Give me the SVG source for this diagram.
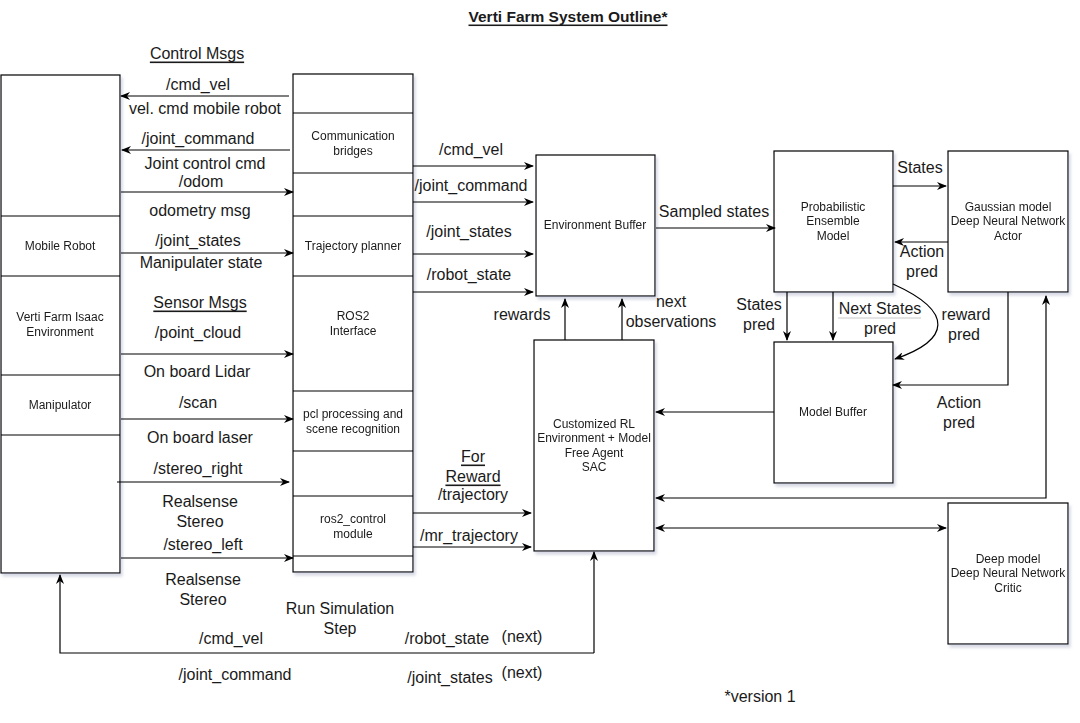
<svg xmlns="http://www.w3.org/2000/svg" width="1080" height="723" viewBox="0 0 1080 723">
<defs>
<style>
.box{fill:#fff;stroke:#000;stroke-width:1.2}
.div{stroke:#000;stroke-width:1.2;fill:none}
.ln{stroke:#000;stroke-width:1.2;fill:none}
.arr{marker-end:url(#ah)}
.bi{marker-end:url(#ah);marker-start:url(#ahs)}
.lb{font-family:"Liberation Sans",Arial,sans-serif;font-size:16px;fill:#1a1a1a;text-anchor:middle;dominant-baseline:central}
.bt{font-family:"Liberation Sans",Arial,sans-serif;font-size:12px;fill:#1a1a1a;text-anchor:middle;dominant-baseline:central}
.u{text-decoration:underline}
</style>
<marker id="ah" viewBox="0 0 10 8" refX="9" refY="4" markerWidth="10" markerHeight="8" markerUnits="userSpaceOnUse" orient="auto">
<path d="M0,0 L10,4 L0,8 L3,4 Z" fill="#000"/>
</marker>
<marker id="ahs" viewBox="0 0 10 8" refX="9" refY="4" markerWidth="10" markerHeight="8" markerUnits="userSpaceOnUse" orient="auto-start-reverse">
<path d="M0,0 L10,4 L0,8 L3,4 Z" fill="#000"/>
</marker>
<filter id="sh" x="-10%" y="-10%" width="130%" height="130%">
<feDropShadow dx="2" dy="3" stdDeviation="1.5" flood-color="#8890b0" flood-opacity="0.35"/>
</filter>
</defs>
<rect width="1080" height="723" fill="#fff"/>

<text class="lb u" x="568" y="16" style="font-weight:bold;font-size:15.5px">Verti Farm System Outline*</text>

<g id="sim-env" filter="url(#sh)">
<rect class="box" x="1" y="75" width="119" height="498"/>
<path class="div" d="M1,216H120M1,276H120M1,375H120M1,435H120"/>
<text class="bt" x="60" y="246">Mobile Robot</text>
<text class="bt" x="60" y="317">Verti Farm Isaac</text>
<text class="bt" x="60" y="332">Environment</text>
<text class="bt" x="60" y="405">Manipulator</text>
</g>

<g id="ros2-interface" filter="url(#sh)">
<rect class="box" x="293" y="74" width="120" height="498"/>
<path class="div" d="M293,113H413M293,173H413M293,216H413M293,276H413M293,391H413M293,451H413M293,496H413M293,556H413"/>
<text class="bt" x="353" y="136">Communication</text>
<text class="bt" x="353" y="151">bridges</text>
<text class="bt" x="353" y="246">Trajectory planner</text>
<text class="bt" x="353" y="316">ROS2</text>
<text class="bt" x="353" y="331">Interface</text>
<text class="bt" x="353" y="414">pcl processing and</text>
<text class="bt" x="353" y="429">scene recognition</text>
<text class="bt" x="353" y="519">ros2_control</text>
<text class="bt" x="353" y="534">module</text>
</g>

<g id="env-buffer" filter="url(#sh)">
<rect class="box" x="536" y="155" width="119" height="141"/>
<text class="bt" x="595" y="225">Environment Buffer</text>
</g>

<g id="rl-agent" filter="url(#sh)">
<rect class="box" x="534" y="340" width="120" height="211"/>
<text class="bt" x="594" y="424">Customized RL</text>
<text class="bt" x="594" y="438">Environment + Model</text>
<text class="bt" x="594" y="453">Free Agent</text>
<text class="bt" x="594" y="467">SAC</text>
</g>

<g id="pe-model" filter="url(#sh)">
<rect class="box" x="774" y="151" width="119" height="141"/>
<text class="bt" x="833" y="207">Probabilistic</text>
<text class="bt" x="833" y="221">Ensemble</text>
<text class="bt" x="833" y="236">Model</text>
</g>

<g id="actor" filter="url(#sh)">
<rect class="box" x="948" y="151" width="120" height="141"/>
<text class="bt" x="1008" y="207">Gaussian model</text>
<text class="bt" x="1008" y="221">Deep Neural Network</text>
<text class="bt" x="1008" y="236">Actor</text>
</g>

<g id="model-buffer" filter="url(#sh)">
<rect class="box" x="774" y="342" width="119" height="141"/>
<text class="bt" x="833" y="412">Model Buffer</text>
</g>

<g id="critic" filter="url(#sh)">
<rect class="box" x="948" y="503" width="120" height="141"/>
<text class="bt" x="1008" y="559">Deep model</text>
<text class="bt" x="1008" y="573">Deep Neural Network</text>
<text class="bt" x="1008" y="588">Critic</text>
</g>

<g id="connectors">
<path class="ln arr" d="M289,96H121"/>
<path class="ln arr" d="M290,150H122"/>
<path class="ln arr" d="M121,192H293"/>
<path class="ln arr" d="M121,253H293"/>
<path class="ln arr" d="M121,354H293"/>
<path class="ln arr" d="M121,419H293"/>
<path class="ln arr" d="M117,482H289"/>
<path class="ln arr" d="M121,558H293"/>
<path class="ln arr" d="M594,653V552"/>
<path class="ln arr" d="M594,653H60V575"/>

<path class="ln arr" d="M413,166H533"/>
<path class="ln arr" d="M413,202H533"/>
<path class="ln arr" d="M413,254H533"/>
<path class="ln arr" d="M413,292H533"/>
<path class="ln arr" d="M413,513H531"/>
<path class="ln arr" d="M413,547H531"/>
<path class="ln arr" d="M565,340V299"/>
<path class="ln arr" d="M622,340V299"/>

<path class="ln arr" d="M656,228H775"/>
<path class="ln arr" d="M893,186H946"/>
<path class="ln arr" d="M948,242H895"/>
<path class="ln arr" d="M787,292V340"/>
<path class="ln arr" d="M833,292V340"/>
<path class="ln arr" d="M893,284C955,312 950,340 895,359"/>
<path class="ln arr" d="M1008,292V385H893"/>
<path class="ln arr" d="M774,412H656"/>
<path class="ln bi" d="M656,498H1046V296"/>
<path class="ln bi" d="M656,528H946"/>
</g>

<g id="labels">
<text class="lb u" x="197" y="53">Control Msgs</text>
<text class="lb" x="198" y="84">/cmd_vel</text>
<text class="lb" x="205" y="108">vel. cmd mobile robot</text>
<text class="lb" x="198" y="138">/joint_command</text>
<text class="lb" x="205" y="163">Joint control cmd</text>
<text class="lb" x="201" y="181">/odom</text>
<text class="lb" x="200" y="210">odometry msg</text>
<text class="lb" x="198" y="240">/joint_states</text>
<text class="lb" x="201" y="262">Manipulater state</text>
<text class="lb u" x="200" y="302">Sensor Msgs</text>
<text class="lb" x="198" y="332">/point_cloud</text>
<text class="lb" x="197" y="371">On board Lidar</text>
<text class="lb" x="198" y="402">/scan</text>
<text class="lb" x="200" y="437">On board laser</text>
<text class="lb" x="198" y="468">/stereo_right</text>
<text class="lb" x="200" y="501">Realsense</text>
<text class="lb" x="200" y="521">Stereo</text>
<text class="lb" x="203" y="544">/stereo_left</text>
<text class="lb" x="203" y="579">Realsense</text>
<text class="lb" x="203" y="599">Stereo</text>
<text class="lb" x="340" y="608">Run Simulation</text>
<text class="lb" x="340" y="628">Step</text>
<text class="lb" x="231" y="638">/cmd_vel</text>
<text class="lb" x="235" y="674">/joint_command</text>
<text class="lb" x="447" y="638">/robot_state</text>
<text class="lb" x="522" y="636">(next)</text>
<text class="lb" x="450" y="677">/joint_states</text>
<text class="lb" x="522" y="672">(next)</text>
<text class="lb" x="760" y="696">*version 1</text>

<text class="lb" x="471" y="149">/cmd_vel</text>
<text class="lb" x="471" y="185">/joint_command</text>
<text class="lb" x="469" y="231">/joint_states</text>
<text class="lb" x="469" y="274">/robot_state</text>
<text class="lb" x="522" y="314">rewards</text>
<text class="lb" x="671" y="301">next</text>
<text class="lb" x="671" y="321">observations</text>
<text class="lb u" x="473" y="456">For</text>
<text class="lb u" x="473" y="476">Reward</text>
<text class="lb" x="473" y="494">/trajectory</text>
<text class="lb" x="469" y="535">/mr_trajectory</text>

<text class="lb" x="714" y="211">Sampled states</text>
<text class="lb" x="920" y="167">States</text>
<text class="lb" x="922" y="251">Action</text>
<text class="lb" x="922" y="271">pred</text>
<text class="lb" x="759" y="304">States</text>
<text class="lb" x="759" y="324">pred</text>
<rect x="838" y="300" width="83" height="37" fill="#fff"/>
<line x1="838" y1="318" x2="921" y2="318" stroke="#c8c8c8" stroke-width="1"/>
<text class="lb" x="880" y="308">Next States</text>
<text class="lb" x="880" y="328">pred</text>
<text class="lb" x="966" y="314">reward</text>
<text class="lb" x="964" y="334">pred</text>
<text class="lb" x="959" y="402">Action</text>
<text class="lb" x="959" y="422">pred</text>
</g>
</svg>
